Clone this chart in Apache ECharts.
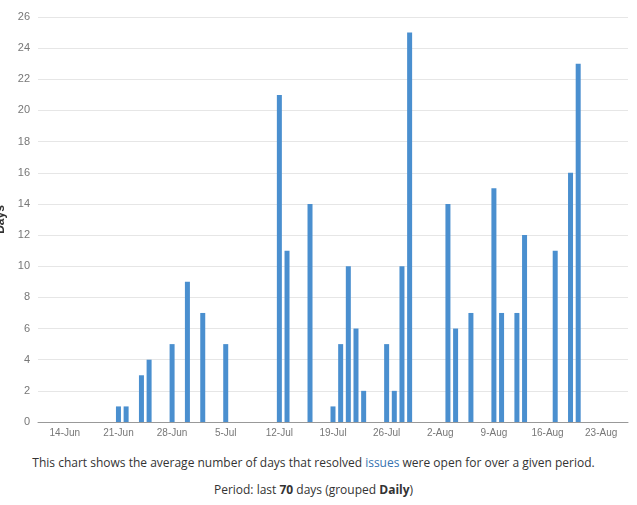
<!DOCTYPE html>
<html>
<head>
<meta charset="utf-8">
<script src="https://cdn.jsdelivr.net/npm/echarts@6/dist/echarts.min.js"></script>
<style>
  body { margin: 0; font-family: "Open Sans", sans-serif; background: #fff; }
  #chart { width: 637px; height: 448px; }
  .cap { text-align: center; font-size: 12px; color: #333; }
  .cap a { color: #3572b0; text-decoration: none; }
</style>
</head>
<body>
<div id="chart"></div>
<div class="cap" style="margin-top:6px;margin-left:-10px">This chart shows the average number of days that resolved <a href="#">issues</a> were open for over a given period.</div>
<div class="cap" style="margin-top:10px;margin-left:-10px">Period: last <b>70</b> days (grouped <b>Daily</b>)</div>
<script>
// days from 11-Jun to 26-Aug
const months = ['Jun', 'Jul', 'Aug'];
const monthLen = [30, 31, 31];
const days = [];
(function () {
    let m = 0, d = 11;
    for (let i = 0; i < 77; i++) {
        days.push(d + '-' + months[m]);
        d++;
        if (d > monthLen[m]) { d = 1; m++; }
    }
})();

// average days open, by resolution day
const avgDays = {
    '21-Jun': 1, '22-Jun': 1, '24-Jun': 3, '25-Jun': 4, '28-Jun': 5, '30-Jun': 9,
    '2-Jul': 7, '5-Jul': 5, '12-Jul': 21, '13-Jul': 11, '16-Jul': 14,
    '19-Jul': 1, '20-Jul': 5, '21-Jul': 10, '22-Jul': 6, '23-Jul': 2,
    '26-Jul': 5, '27-Jul': 2, '28-Jul': 10, '29-Jul': 25,
    '3-Aug': 14, '4-Aug': 6, '6-Aug': 7, '9-Aug': 15, '10-Aug': 7,
    '12-Aug': 7, '13-Aug': 12, '17-Aug': 11, '19-Aug': 16, '20-Aug': 23
};
const values = days.map(d => avgDays[d] !== undefined ? avgDays[d] : 0);

const chart = echarts.init(document.getElementById('chart'));
chart.setOption({
    animation: false,
    grid: { left: 38, right: 9, top: 17, bottom: 26, containLabel: false, outerBoundsMode: 'none' },
    xAxis: {
        type: 'category',
        data: days,
        axisLine: { lineStyle: { color: '#999' } },
        axisTick: { alignWithLabel: true, interval: (i) => i % 7 === 3, lineStyle: { color: '#999' } },
        axisLabel: { interval: (i) => i % 7 === 3, color: '#777', fontSize: 10, margin: 6 }
    },
    yAxis: {
        type: 'value',
        min: 0, max: 26, interval: 2,
        name: 'Days',
        nameLocation: 'middle',
        nameGap: 30,
        nameTextStyle: { fontWeight: 'bold', color: '#333', fontSize: 12 },
        axisLabel: { color: '#777', fontSize: 11 },
        splitLine: { lineStyle: { color: '#e6e6e6' } }
    },
    series: [{
        type: 'bar',
        data: values,
        barWidth: 5,
        itemStyle: { color: '#4a8fcf' }
    }]
});
</script>
</body>
</html>
